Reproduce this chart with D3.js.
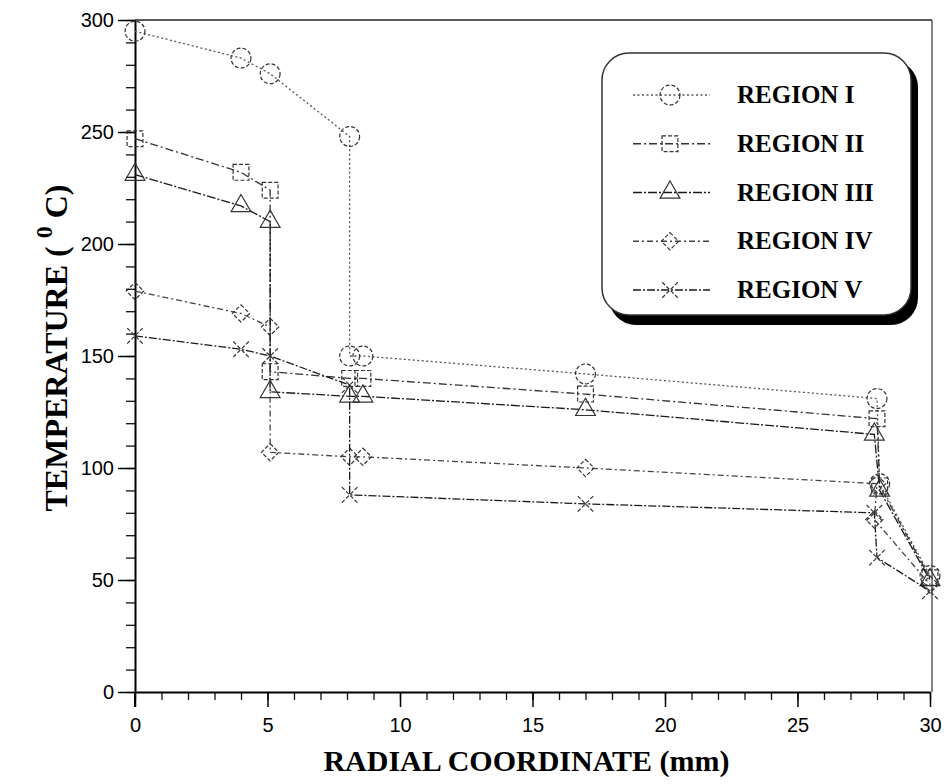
<!DOCTYPE html>
<html>
<head>
<meta charset="utf-8">
<script src="https://cdn.jsdelivr.net/npm/d3@7"></script>
<style>
  body { margin: 0; background: #fff; }
  svg { display: block; }
</style>
</head>
<body>
<div id="chart"></div>
<script>
// Data (temperature in deg C vs radial coordinate in mm)
const regionNames = ["REGION I", "REGION II", "REGION III", "REGION IV", "REGION V"];

const xRegionI   = [0, 4, 5.1, 8.1, 8.1, 8.6, 17, 28, 28.1, 30];
const tRegionI   = [295, 283, 276, 248, 150, 150, 142, 131, 93, 52];

const xRegionII  = [0, 4, 5.1, 5.1, 8.1, 8.6, 17, 28, 28.1, 30];
const tRegionII  = [247, 232, 224, 143, 140, 140, 133, 122, 92, 51];

const xRegionIII = [0, 4, 5.1, 5.1, 8.1, 8.6, 17, 27.9, 28.1, 30];
const tRegionIII = [231, 217, 210, 134, 132, 132, 126, 115, 90, 50];

const xRegionIV  = [0, 4, 5.1, 5.1, 8.1, 8.6, 17, 28, 27.9, 30];
const tRegionIV  = [179, 169, 163, 107, 105, 105, 100, 93, 77, 48];

const xRegionV   = [0, 4, 5.1, 8.1, 8.1, 17, 27.9, 28, 30];
const tRegionV   = [159, 153, 150, 137, 88, 84, 80, 60, 45];

const xTicks = [0, 5, 10, 15, 20, 25, 30];
const yTicks = [0, 50, 100, 150, 200, 250, 300];

function displayChart() {
    const width = 950;
    const height = 784;

    // Plot frame
    var padding = {top: 20, right: 18, bottom: 92, left: 135};

    var svg = d3.select("#chart")
        .append("svg")
        .attr("width", width)
        .attr("height", height);

    var xScale = d3.scaleLinear()
        .domain([0, 30])
        .range([padding.left, width - padding.right - 2]);

    var yScale = d3.scaleLinear()
        .domain([0, 300])
        .range([height - padding.bottom, padding.top]);

    // Top and right frame lines
    svg.append("line")
        .attr("x1", xScale(0)).attr("x2", xScale(30) + 2)
        .attr("y1", yScale(300)).attr("y2", yScale(300))
        .attr("stroke", "#222").attr("stroke-width", 1.5);
    svg.append("line")
        .attr("x1", xScale(30) + 2).attr("x2", xScale(30) + 2)
        .attr("y1", yScale(300)).attr("y2", yScale(0))
        .attr("stroke", "#444").attr("stroke-width", 1.3);

    // Minor ticks
    svg.append("g")
        .attr("transform", "translate(" + padding.left + ",0)")
        .call(d3.axisLeft(yScale).tickValues(d3.range(0, 301, 10)).tickSize(9).tickFormat(""))
        .call(g => g.select(".domain").remove())
        .selectAll("line").attr("stroke", "#111").attr("stroke-width", 1.3);

    svg.append("g")
        .attr("transform", "translate(0," + yScale(0) + ")")
        .call(d3.axisBottom(xScale).tickValues(d3.range(0, 31, 1)).tickSize(8).tickFormat(""))
        .call(g => g.select(".domain").remove())
        .selectAll("line").attr("stroke", "#111").attr("stroke-width", 1.3);

    // Major axes
    var yAxis = svg.append("g")
        .attr("class", "y-axis")
        .attr("transform", "translate(" + padding.left + ",0)")
        .call(d3.axisLeft(yScale).tickValues(yTicks).tickSize(17).tickSizeOuter(0).tickPadding(4));

    var xAxis = svg.append("g")
        .attr("class", "x-axis")
        .attr("transform", "translate(0," + yScale(0) + ")")
        .call(d3.axisBottom(xScale).tickValues(xTicks).tickSize(15).tickSizeOuter(0).tickPadding(11));

    [yAxis, xAxis].forEach(g => {
        g.select(".domain").attr("stroke", "#000").attr("stroke-width", 2);
        g.selectAll(".tick line").attr("stroke", "#000").attr("stroke-width", 1.5);
        g.selectAll("text")
            .attr("fill", "#000")
            .style("font-family", "'Liberation Sans', Arial, sans-serif")
            .style("font-size", "20px");
    });

    // y axis runs a little below the x axis
    svg.append("line")
        .attr("x1", padding.left).attr("x2", padding.left)
        .attr("y1", yScale(0)).attr("y2", yScale(0) + 15)
        .attr("stroke", "#000").attr("stroke-width", 2);

    // Series
    var series = [
        {name: regionNames[0], xs: xRegionI,   ts: tRegionI,   shape: "circle",   dash: "2,2.5",     color: "#555"},
        {name: regionNames[1], xs: xRegionII,  ts: tRegionII,  shape: "square",   dash: "8,3,2,3",   color: "#333"},
        {name: regionNames[2], xs: xRegionIII, ts: tRegionIII, shape: "triangle", dash: "9,2,2,2",   color: "#1a1a1a"},
        {name: regionNames[3], xs: xRegionIV,  ts: tRegionIV,  shape: "diamond",  dash: "6,3,2,3",   color: "#444"},
        {name: regionNames[4], xs: xRegionV,   ts: tRegionV,   shape: "cross",    dash: "8,2,2,2",   color: "#1a1a1a"}
    ];

    var symbolTypes = {
        circle: d3.symbolCircle,
        square: d3.symbolSquare,
        triangle: d3.symbolTriangle,
        diamond: d3.symbolDiamond2,
        cross: d3.symbolX
    };
    var symbolSizes = {circle: 310, square: 250, triangle: 170, diamond: 190, cross: 160};

    var line = d3.line()
        .x(d => xScale(d[0]))
        .y(d => yScale(d[1]));

    series.forEach(s => {
        var pts = s.xs.map((x, i) => [x, s.ts[i]]);

        svg.append("path")
            .datum(pts)
            .attr("fill", "none")
            .attr("stroke", s.color)
            .attr("stroke-width", 1.3)
            .attr("stroke-dasharray", s.dash)
            .attr("d", line);

        svg.selectAll(".mark-" + s.shape)
            .data(pts)
            .enter()
                .append("path")
                .attr("class", "mark-" + s.shape)
                .attr("transform", d => "translate(" + xScale(d[0]) + "," + yScale(d[1]) + ")")
                .attr("d", d3.symbol().type(symbolTypes[s.shape]).size(symbolSizes[s.shape]))
                .attr("fill", "none")
                .attr("stroke", "#333")
                .attr("stroke-width", 1.2)
                .attr("stroke-dasharray", s.shape == "triangle" ? null : "4,2");
    });

    // Legend box with drop shadow
    var legend = svg.append("g").attr("class", "legend");
    legend.append("rect")
        .attr("x", 609).attr("y", 60)
        .attr("width", 309).attr("height", 265)
        .attr("rx", 27)
        .attr("fill", "#000");
    legend.append("rect")
        .attr("x", 602).attr("y", 53)
        .attr("width", 309).attr("height", 262)
        .attr("rx", 27)
        .attr("fill", "#fff")
        .attr("stroke", "#333")
        .attr("stroke-width", 1.5);

    var rowY = d3.scalePoint()
        .domain(regionNames)
        .range([95, 290]);

    series.forEach(s => {
        var y = rowY(s.name);
        legend.append("line")
            .attr("x1", 633).attr("x2", 710)
            .attr("y1", y).attr("y2", y)
            .attr("stroke", s.color)
            .attr("stroke-width", 1.3)
            .attr("stroke-dasharray", s.dash);
        legend.append("path")
            .attr("transform", "translate(670," + y + ")")
            .attr("d", d3.symbol().type(symbolTypes[s.shape]).size(symbolSizes[s.shape]))
            .attr("fill", "none")
            .attr("stroke", "#333")
            .attr("stroke-width", 1.2)
            .attr("stroke-dasharray", s.shape == "triangle" ? null : "4,2");
        legend.append("text")
            .attr("x", 737)
            .attr("y", y + 8)
            .style("font-family", "'Liberation Serif', 'Times New Roman', serif")
            .style("font-weight", "bold")
            .style("font-size", "25px")
            .text(s.name);
    });

    // Axis titles
    svg.append("text")
        .attr("x", (xScale(0) + xScale(30)) / 2 - 6)
        .attr("y", 771)
        .style("text-anchor", "middle")
        .style("font-family", "'Liberation Serif', 'Times New Roman', serif")
        .style("font-weight", "bold")
        .style("font-size", "30px")
        .text("RADIAL COORDINATE (mm)");

    var yTitle = svg.append("text")
        .attr("transform", "translate(67,348) rotate(-90)")
        .style("text-anchor", "middle")
        .style("font-family", "'Liberation Serif', 'Times New Roman', serif")
        .style("font-weight", "bold")
        .style("font-size", "32px");
    yTitle.append("tspan").text("TEMPERATURE (  ");
    yTitle.append("tspan").attr("dy", -15).style("font-size", "24px").text("0");
    yTitle.append("tspan").attr("dy", 15).text("  C)");
}

displayChart();
</script>
</body>
</html>
